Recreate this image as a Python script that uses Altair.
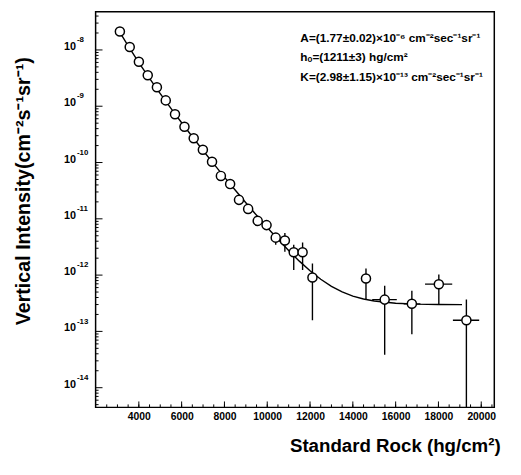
import altair as alt
import pandas as pd

# ---- data ----
depth = [3114, 3574, 4002, 4416, 4844, 5258, 5690, 6132, 6564, 6992, 7420, 7834,
         8266, 8680, 9108, 9554, 9968, 10396, 10824, 11238, 11652, 12112,
         14614, 15488, 16758, 18018, 19306]
intensity = [2.12e-8, 1.13e-8, 6.16e-9, 3.55e-9, 2.17e-9, 1.27e-9, 7.22e-10, 4.33e-10,
             2.70e-10, 1.69e-10, 1.03e-10, 5.78e-11, 4.14e-11, 2.17e-11, 1.50e-11,
             9.19e-12, 7.73e-12, 4.63e-12, 4.11e-12, 2.54e-12, 2.54e-12, 9.04e-13,
             8.69e-13, 3.67e-13, 3.09e-13, 6.90e-13, 1.58e-13]

# vertical error bars (only where visible)
ev_depth = [10396, 10824, 11238, 11652, 12112, 14614, 15488, 16758, 18018, 19306]
ev_lo = [3.45e-12, 2.61e-12, 1.23e-12, 1.23e-12, 1.58e-13, 3.67e-13, 3.85e-14, 8.87e-14, 2.96e-13, 1e-16]
ev_hi = [5.60e-12, 5.60e-12, 3.45e-12, 3.79e-12, 1.61e-12, 1.31e-12, 6.44e-13, 5.27e-13, 1.03e-12, 3.67e-13]

# horizontal error bars
eh_int = [3.67e-13, 3.09e-13, 6.90e-13, 1.58e-13]
eh_lo = [14904, 16376, 17374, 18676]
eh_hi = [16054, 17158, 18644, 19904]

# fit curve
curve_h = [3100, 3500, 4000, 4500, 5000, 5500, 6000, 6500, 7000, 7500, 8000, 8500,
           9000, 9500, 10000, 10500, 11000, 11500, 12000, 12500, 13000, 13500,
           14000, 14500, 15000, 16000, 17000, 18000, 19100]
curve_i = [2.088e-8, 1.177e-8, 5.965e-9, 3.119e-9, 1.672e-9, 9.142e-10, 5.084e-10,
           2.866e-10, 1.638e-10, 9.457e-11, 5.513e-11, 3.244e-11, 1.926e-11,
           1.156e-11, 7.025e-12, 4.335e-12, 2.732e-12, 1.771e-12, 1.193e-12,
           8.44e-13, 6.32e-13, 5.03e-13, 4.24e-13, 3.76e-13, 3.46e-13, 3.165e-13,
           3.05e-13, 3.01e-13, 2.99e-13]

x_labels = [4000, 6000, 8000, 10000, 12000, 14000, 16000, 18000, 20000]
y_major = [1e-14, 1e-13, 1e-12, 1e-11, 1e-10, 1e-9, 1e-8]
y_exponents = ["-14", "-13", "-12", "-11", "-10", "-9", "-8"]

annot = ["A=(1.77±0.02)×10⁻⁶ cm⁻²sec⁻¹sr⁻¹",
         "hₒ=(1211±3) hg/cm²",
         "K=(2.98±1.15)×10⁻¹³ cm⁻²sec⁻¹sr⁻¹"]

# ---- layout ----
W, H = 405, 402
FONT = "Liberation Sans"

xscale = alt.Scale(domain=[1980, 20610], nice=False, zero=False)
yscale = alt.Scale(type="log", domain=[4.47e-15, 4.79e-8], nice=False)

pts = pd.DataFrame({"h": depth, "I": intensity})
ev = pd.DataFrame({"h": ev_depth, "lo": ev_lo, "hi": ev_hi})
eh = pd.DataFrame({"I": eh_int, "lo": eh_lo, "hi": eh_hi})
cur = pd.DataFrame({"h": curve_h, "I": curve_i})
ylab = pd.DataFrame({"v": y_major, "e": y_exponents, "b": ["10"] * len(y_major)})

x_minor = pd.DataFrame({"v": list(range(2500, 20501, 500))})
x_major = pd.DataFrame({"v": list(range(4000, 20001, 2000))})
y_minor = pd.DataFrame({"v": [m * 10.0 ** k for k in range(-15, -7) for m in range(2, 10)
                              if 4.47e-15 < m * 10.0 ** k < 4.79e-8]})

x_axis = alt.Axis(values=x_labels, format="d", title="Standard Rock (hg/cm²)",
                  grid=False, ticks=False, domain=False, labelPadding=4,
                  labelFontSize=10.5, labelFontWeight="bold", labelColor="black",
                  labelFont=FONT, titleFont=FONT, titleFontSize=19,
                  titleFontWeight="bold", titleColor="black",
                  titleX=411, titleY=39, titleAlign="right",
                  titleBaseline="middle")
y_axis = alt.Axis(values=y_major, labels=False,
                  title="Vertical Intensity(cm⁻²s⁻¹sr⁻¹)",
                  grid=False, ticks=False, domain=False,
                  titleFont=FONT, titleFontSize=20,
                  titleFontWeight="bold", titleColor="black",
                  titleX=-73, titleY=182, titleAlign="center",
                  titleBaseline="middle", titleAngle=-90)


def X(f):
    return alt.X(f, scale=xscale, axis=x_axis)


def Y(f):
    return alt.Y(f, scale=yscale, axis=y_axis)


line = alt.Chart(cur).mark_line(color="black", strokeWidth=1.4).encode(
    x=X("h:Q"), y=Y("I:Q"))

vbars = alt.Chart(ev).mark_rule(color="black", strokeWidth=1.4, clip=True).encode(
    x=X("h:Q"), y=Y("lo:Q"), y2="hi:Q")

hbars = alt.Chart(eh).mark_rule(color="black", strokeWidth=1.4, clip=True).encode(
    x=X("lo:Q"), x2="hi:Q", y=Y("I:Q"))

points = alt.Chart(pts).mark_point(shape="circle", size=85, fill="white", stroke="black",
                                   strokeWidth=1.5, opacity=1, fillOpacity=1).encode(
    x=X("h:Q"), y=Y("I:Q"))

xt_minor = alt.Chart(x_minor).mark_rule(color="black", strokeWidth=1).encode(
    x=X("v:Q"), y=alt.value(H), y2=alt.value(H - 3))
xt_major = alt.Chart(x_major).mark_rule(color="black", strokeWidth=1).encode(
    x=X("v:Q"), y=alt.value(H), y2=alt.value(H - 6))
yt_minor = alt.Chart(y_minor).mark_rule(color="black", strokeWidth=1).encode(
    y=Y("v:Q"), x=alt.value(0), x2=alt.value(3))
yt_major = alt.Chart(ylab).mark_rule(color="black", strokeWidth=1).encode(
    y=Y("v:Q"), x=alt.value(0), x2=alt.value(7))

ylab_base = alt.Chart(ylab).mark_text(
    align="right", baseline="middle", font=FONT, fontSize=11, fontWeight="bold",
    color="black", dy=-3).encode(y=Y("v:Q"), x=alt.value(-20), text="b:N")
ylab_exp = alt.Chart(ylab).mark_text(
    align="left", baseline="middle", font=FONT, fontSize=8, fontWeight="bold",
    color="black", dy=-10).encode(y=Y("v:Q"), x=alt.value(-19), text="e:N")

texts = []
for i, t in enumerate(annot):
    texts.append(
        alt.Chart(pd.DataFrame({"t": [t]})).mark_text(
            align="left", baseline="middle", font=FONT, fontSize=12,
            fontWeight="bold", color="black").encode(
            x=alt.value(208), y=alt.value(27 + 19.5 * i), text="t:N")
    )

chart = alt.layer(line, vbars, hbars, points, xt_minor, xt_major, yt_minor, yt_major,
                  ylab_base, ylab_exp, *texts).properties(
    width=W, height=H,
    autosize=alt.AutoSizeParams(type="none"),
    padding={"left": 89, "top": 0, "right": 19, "bottom": 65},
).configure(background="white").configure_view(stroke="black", strokeWidth=1.5)

chart.save("out.html", embed_options={"renderer": "svg", "actions": False})
